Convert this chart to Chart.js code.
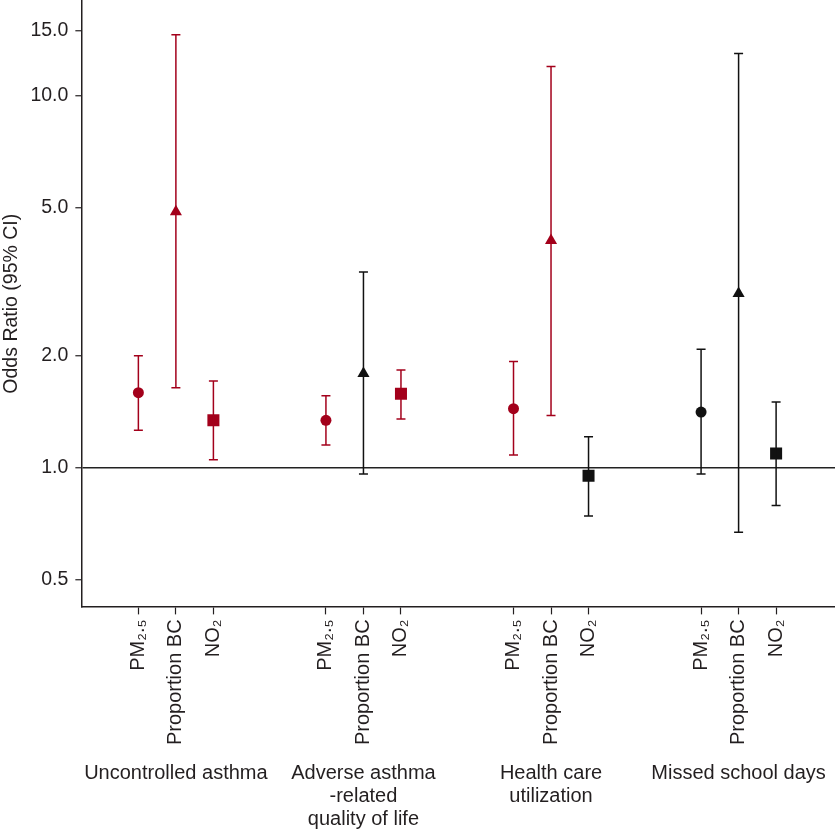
<!DOCTYPE html>
<html>
<head>
<meta charset="utf-8">
<script src="https://cdn.jsdelivr.net/npm/chart.js@4.4.1/dist/chart.umd.min.js"></script>
<style>
body{margin:0;background:#fff;}
canvas{display:block;}
</style>
</head>
<body>
<canvas id="orChart" width="835" height="830"></canvas>
<script>
// groups along the x axis, exposures inside each group
const groupLabels = ['Uncontrolled asthma', ['Adverse asthma','-related','quality of life'], ['Health care','utilization'], 'Missed school days'];
const exposureLabels = ['PM\u2082.\u2085', 'Proportion BC', 'NO\u2082'];

// odds ratios and 95% CI per group
const pm25OR   = [1.59, 1.34, 1.44, 1.41];
const pm25Low  = [1.26, 1.15, 1.08, 0.96];
const pm25High = [2.00, 1.56, 1.93, 2.08];
const bcOR     = [4.88, 1.79, 4.08, 2.94];
const bcLow    = [1.64, 0.96, 1.38, 0.67];
const bcHigh   = [14.6, 3.36, 12.0, 13.0];
const no2OR    = [1.34, 1.58, 0.95, 1.09];
const no2Low   = [1.05, 1.35, 0.74, 0.79];
const no2High  = [1.71, 1.83, 1.21, 1.50];
// significant results are drawn red
const pm25Sig = [true, true, true, false];
const bcSig   = [true, false, true, false];
const no2Sig  = [true, true, false, false];

const yTicks = [0.5, 1.0, 2.0, 5.0, 10.0, 15.0];

const RED = '#a3001b';
const BLACK = '#111';
const TXT = '#231f20';
const FONT = "'Liberation Sans', Arial, Helvetica, sans-serif";

let xPos = (g, i) => g * 5 + i;
let xMin = -1.52, xMax = 18.57;

let series = [
	{or: pm25OR, lo: pm25Low, hi: pm25High, sig: pm25Sig, style: 'circle', r: 5.5},
	{or: bcOR, lo: bcLow, hi: bcHigh, sig: bcSig, style: 'triangle', r: 7},
	{or: no2OR, lo: no2Low, hi: no2High, sig: no2Sig, style: 'rect', r: 8.5}
];

let datasets = [];
// whiskers first so the markers sit on top
series.forEach((s, i) => {
	groupLabels.forEach((g, k) => {
		let c = s.sig[k] ? RED : BLACK;
		datasets.push({
			data: [{x: xPos(k, i), y: s.lo[k]}, {x: xPos(k, i), y: s.hi[k]}],
			showLine: true,
			borderColor: c,
			borderWidth: 1.5,
			pointStyle: 'line',
			pointRadius: 4.5,
			pointBorderColor: c,
			pointBorderWidth: 1.5,
			pointHoverRadius: 4.5
		});
	});
});
series.forEach((s, i) => {
	datasets.push({
		data: s.or.map((v, k) => ({x: xPos(k, i), y: v})),
		pointStyle: s.style,
		pointRadius: s.r,
		pointHoverRadius: s.r,
		pointBackgroundColor: s.sig.map(b => b ? RED : BLACK),
		pointBorderColor: s.sig.map(b => b ? RED : BLACK),
		pointBorderWidth: 0
	});
});

let xTickVals = [];
groupLabels.forEach((g, k) => {
	exposureLabels.forEach((e, i) => xTickVals.push(xPos(k, i)));
});

// no extra room for labels at the ends, the plot runs to the edges
let noPad = ax => { ax.paddingTop = 0; ax.paddingBottom = 0; ax.paddingLeft = 0; ax.paddingRight = 0; };

new Chart(document.getElementById('orChart'), {
	type: 'scatter',
	data: {datasets: datasets},
	options: {
		responsive: false,
		animation: false,
		devicePixelRatio: 1,
		layout: {autoPadding: false, padding: {top: 1, right: 0, bottom: -5, left: 0}},
		plugins: {legend: {display: false}, tooltip: {enabled: false}},
		scales: {
			x: {
				type: 'linear',
				position: 'bottom',
				min: xMin,
				max: xMax,
				afterBuildTicks: ax => { ax.ticks = xTickVals.map(v => ({value: v})); },
				afterFit: noPad,
				ticks: {
					autoSkip: false,
					minRotation: 90,
					maxRotation: 90,
					padding: 5,
					color: TXT,
					font: {family: FONT, size: 20},
					callback: (v, i) => exposureLabels[i % 3]
				},
				grid: {drawOnChartArea: false, tickLength: 8, tickColor: TXT, tickWidth: 1.2},
				border: {color: TXT, width: 1.5}
			},
			x2: {
				type: 'linear',
				position: 'bottom',
				min: xMin,
				max: xMax,
				afterBuildTicks: ax => { ax.ticks = groupLabels.map((g, k) => ({value: xPos(k, 1)})); },
				afterFit: noPad,
				ticks: {
					autoSkip: false,
					maxRotation: 0,
					padding: 4,
					color: TXT,
					font: {family: FONT, size: 20, lineHeight: 1.15},
					callback: (v, i) => groupLabels[i]
				},
				grid: {display: false},
				border: {display: false}
			},
			y: {
				type: 'logarithmic',
				min: 0.423,
				max: 18,
				afterBuildTicks: ax => { ax.ticks = yTicks.map(v => ({value: v})); },
				afterFit: noPad,
				ticks: {
					color: TXT,
					padding: 7,
					font: {family: FONT, size: 19.5},
					callback: v => Number(v).toFixed(1)
				},
				grid: {
					color: c => (c.tick && c.tick.value === 1) ? '#222' : 'rgba(0,0,0,0)',
					lineWidth: 1.5,
					tickColor: TXT,
					tickLength: 6,
					tickWidth: 1.2
				},
				border: {color: TXT, width: 1.5},
				title: {
					display: true,
					text: 'Odds Ratio (95% CI)',
					color: TXT,
					font: {family: FONT, size: 19.5},
					padding: {top: 0, bottom: 0}
				}
			}
		}
	}
});
</script>
</body>
</html>
